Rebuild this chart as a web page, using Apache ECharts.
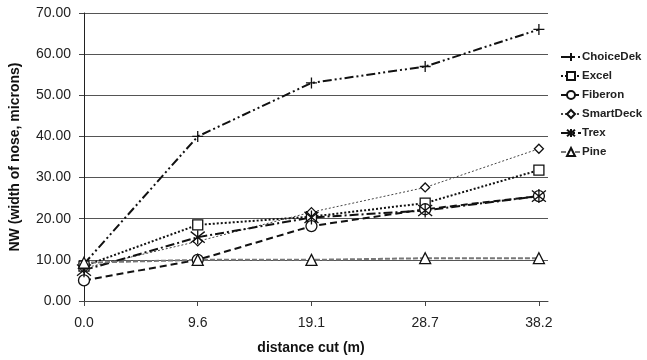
<!DOCTYPE html>
<html>
<head>
<meta charset="utf-8">
<script src="https://cdn.jsdelivr.net/npm/echarts@6/dist/echarts.min.js"></script>
<style>
  html, body { margin: 0; padding: 0; background: #fff; }
  #main { width: 647px; height: 360px; }
</style>
</head>
<body>
<div id="main"></div>
<script>
// distance cut (m) categories
var distances = ['0.0', '9.6', '19.1', '28.7', '38.2'];
// NW values per product
var choiceDek = [9, 40, 53, 57, 66];
var excel = [8.5, 18.5, 20.5, 23.8, 31.8];
var fiberon = [5, 10, 18.2, 22.3, 25.5];
var smartDeck = [8, 14.5, 21.6, 27.6, 37];
var trex = [7.5, 15.5, 20.3, 22, 25.5];
var pine = [9.3, 10, 10, 10.4, 10.4];

var PLUS = 'path://M5,0L5,10M0,5L10,5';
var STAR = 'path://M1,1L9,9M9,1L1,9M5,0L5,10';

function pairs(arr) {
    return arr.map(function (v, i) { return [i, v]; });
}

function mk(name, data, symbol, size, lineType, width, color, fill) {
    return {
        name: name,
        type: 'line',
        data: pairs(data),
        symbol: symbol,
        symbolSize: size,
        showAllSymbol: true,
        lineStyle: { type: lineType, width: width, color: color },
        itemStyle: { color: fill, borderColor: '#111', borderWidth: 1.3 },
        emphasis: { disabled: true },
        z: 3
    };
}

var myChart = echarts.init(document.getElementById('main'));
myChart.setOption({
    animation: false,
    textStyle: { fontFamily: 'Liberation Sans, Arial, sans-serif' },
    grid: { left: 82, right: 99, top: 13, bottom: 54 },
    legend: {
        orient: 'vertical',
        left: 555,
        top: 46,
        itemWidth: 20,
        itemHeight: 10,
        itemGap: 7,
        textStyle: { fontSize: 11.5, fontWeight: 'bold', color: '#222', padding: [0, 0, 0, -4] },
        data: ['ChoiceDek', 'Excel', 'Fiberon', 'SmartDeck', 'Trex', 'Pine']
    },
    xAxis: {
        type: 'value',
        min: 0,
        max: 4.08,
        name: 'distance cut (m)',
        nameLocation: 'middle',
        nameGap: 40,
        nameTextStyle: { fontSize: 14, fontWeight: 'bold', color: '#111', padding: [0, 0, 0, -10] },
        axisLine: { lineStyle: { color: '#444', width: 1 } },
        axisTick: { show: true, length: 5, customValues: [0, 1, 2, 3, 4], lineStyle: { color: '#444' } },
        axisLabel: {
            customValues: [0, 1, 2, 3, 4],
            formatter: function (v) { return distances[v]; },
            fontSize: 14, color: '#222', margin: 15
        },
        splitLine: { show: false }
    },
    yAxis: {
        type: 'value',
        min: 0,
        max: 70,
        interval: 10,
        name: 'NW (width of nose, microns)',
        nameLocation: 'middle',
        nameGap: 62,
        nameTextStyle: { fontSize: 14, fontWeight: 'bold', color: '#111' },
        axisLine: { show: true, lineStyle: { color: '#222', width: 1 } },
        axisTick: { show: true, length: 5, lineStyle: { color: '#444' } },
        axisLabel: {
            formatter: function (v) { return v.toFixed(2); },
            fontSize: 14, color: '#222', margin: 13
        },
        splitLine: { show: true, lineStyle: { color: '#555', width: 1 } }
    },
    series: [
        mk('ChoiceDek', choiceDek, PLUS, 11, [9, 3, 2, 3, 2, 3], 2, '#111', '#111'),
        mk('Excel', excel, 'rect', 10, [2, 2], 2, '#111', '#fff'),
        mk('Fiberon', fiberon, 'circle', 11, [7, 4], 2, '#111', '#fff'),
        mk('SmartDeck', smartDeck, 'diamond', 9, [2, 2], 1, '#444', '#fff'),
        mk('Trex', trex, STAR, 14, [9, 3, 2, 3], 2, '#111', '#111'),
        mk('Pine', pine, 'triangle', 11, [5, 2], 2, '#777', '#fff')
    ]
});
</script>
</body>
</html>
